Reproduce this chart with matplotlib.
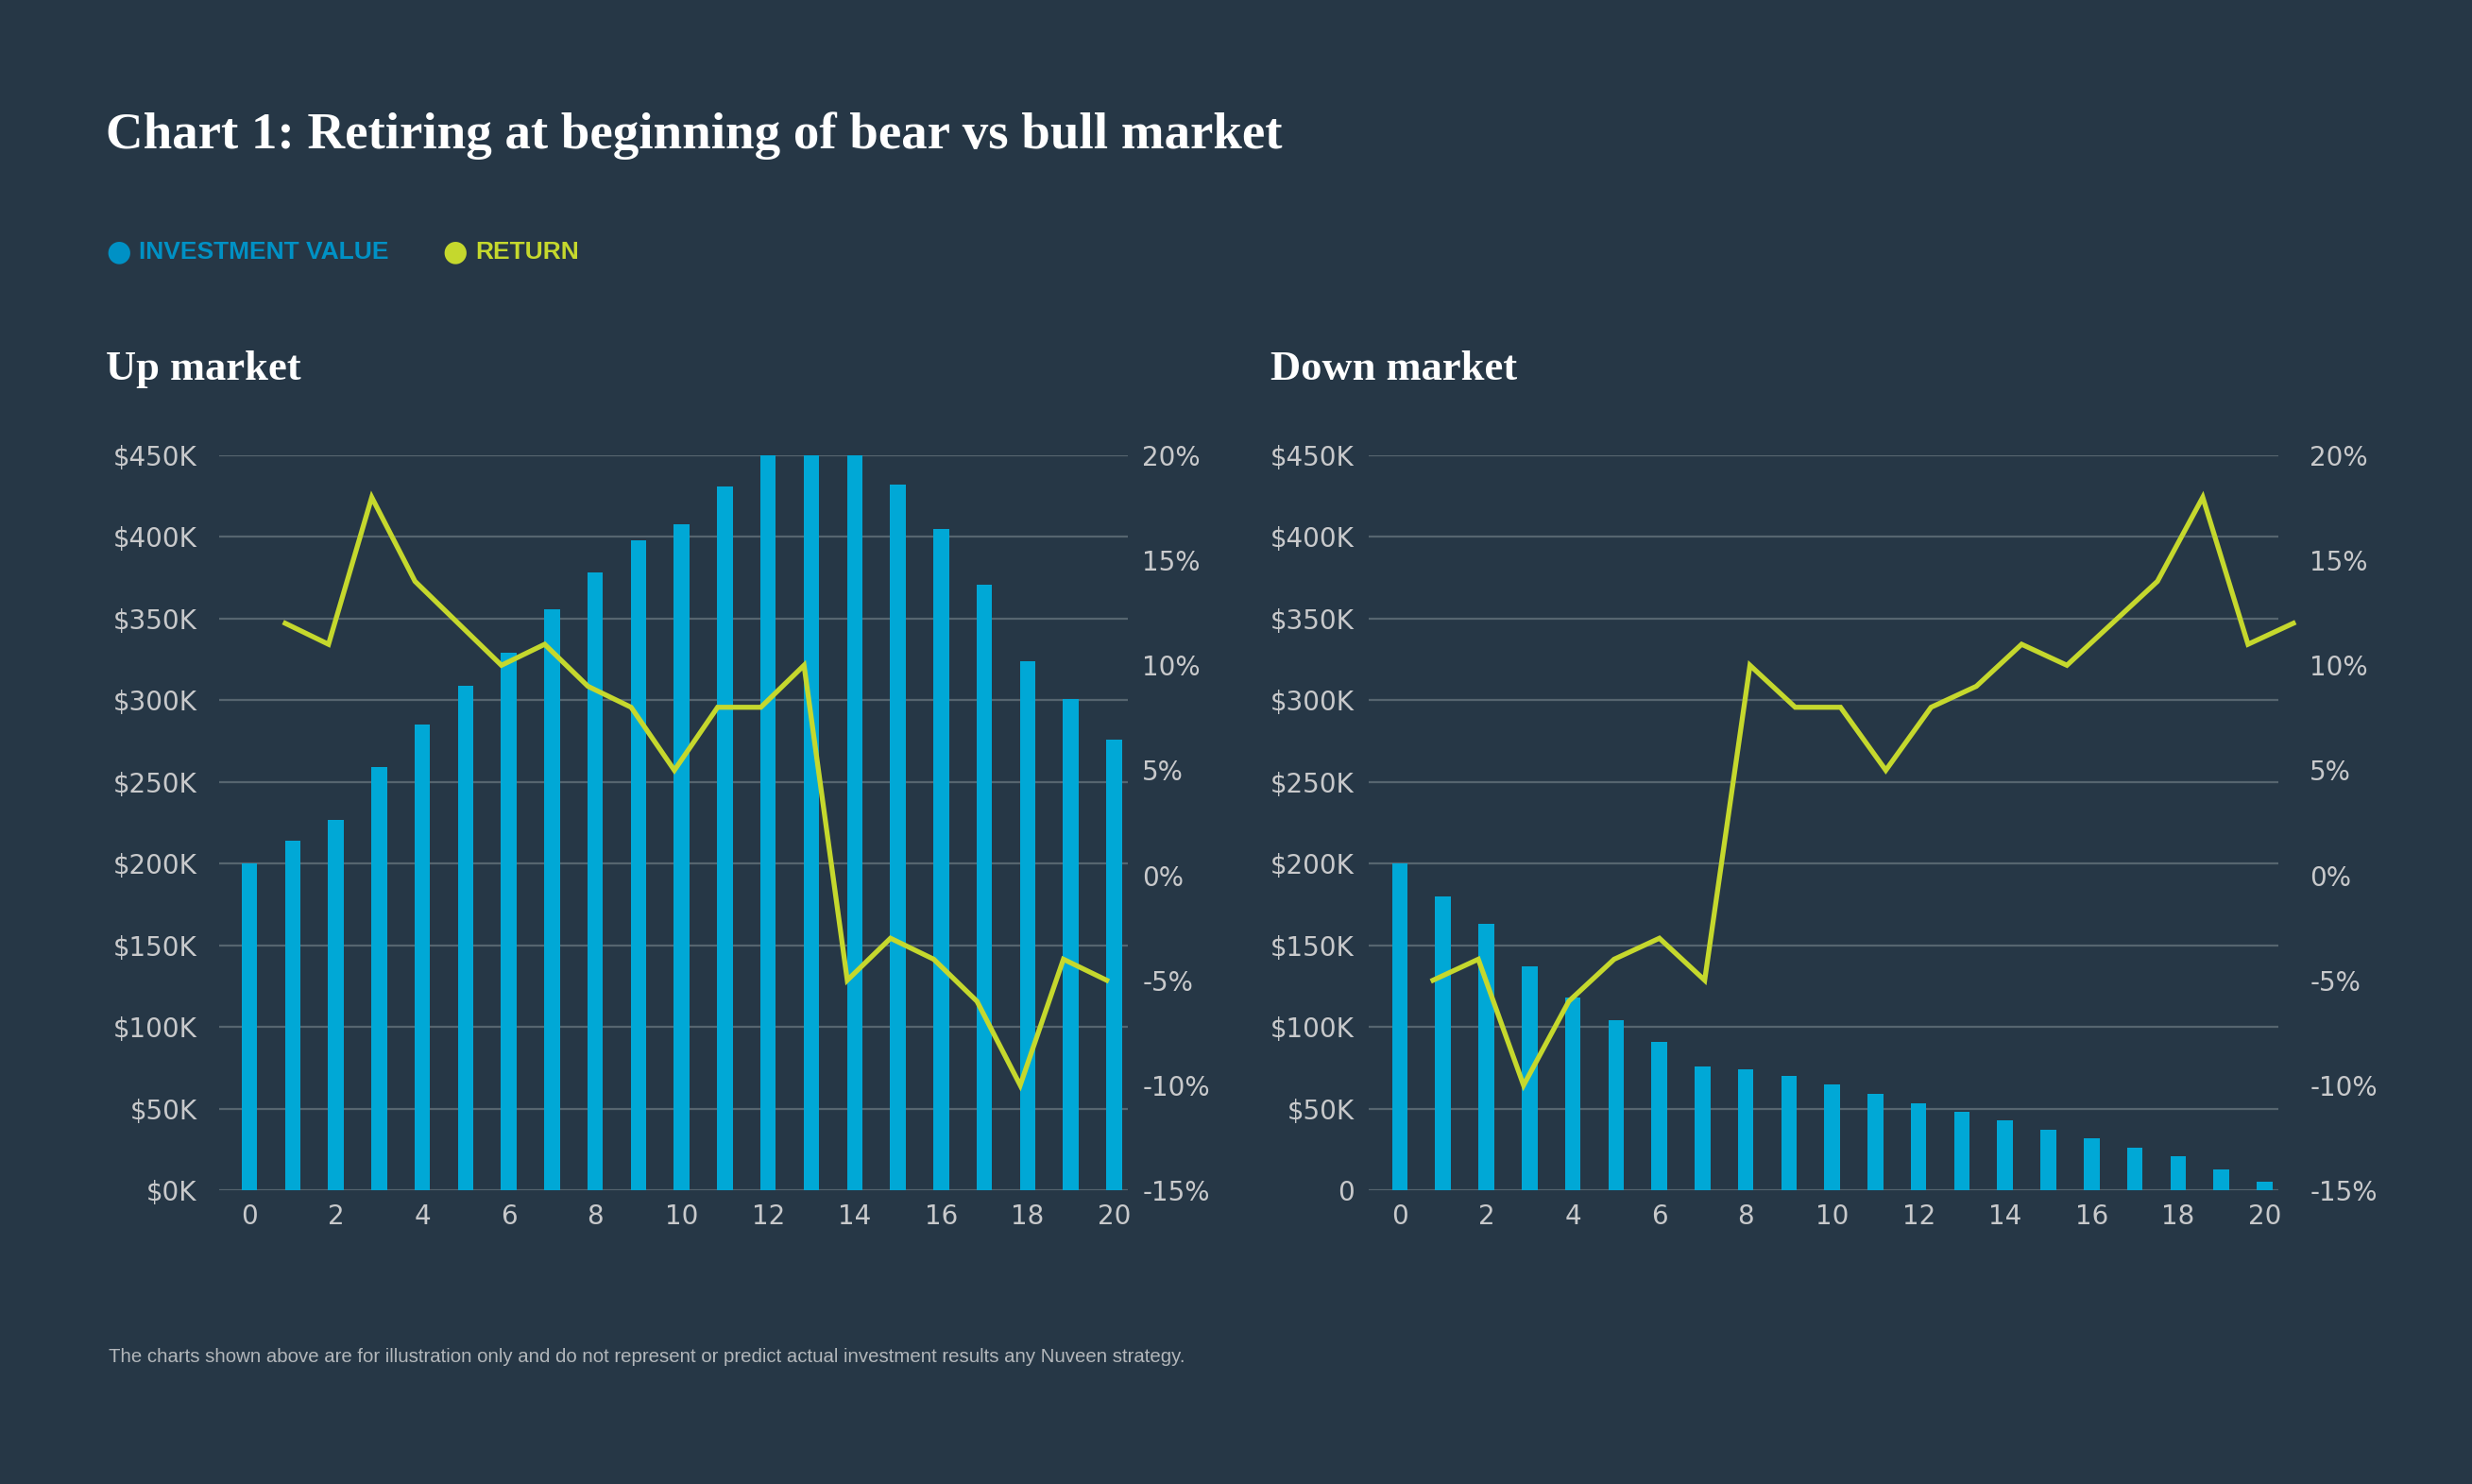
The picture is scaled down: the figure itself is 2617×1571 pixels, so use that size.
import numpy as np
import matplotlib
matplotlib.use("Agg")
import matplotlib.pyplot as plt

# ---- data ----
years = list(range(0, 21))
ret_years = list(range(1, 21))

up_value = [200, 214, 227, 259, 285, 309, 329, 356, 378, 398, 408, 431,
            450, 450, 450, 432, 405, 371, 324, 301, 276]
up_return = [12, 11, 18, 14, 12, 10, 11, 9, 8, 5, 8, 8, 10,
             -5, -3, -4, -6, -10, -4, -5]

down_value = [200, 180, 163, 137, 118, 104, 91, 76, 74, 70, 65, 59, 53,
              48, 43, 37, 32, 26, 21, 13, 5]
down_return = [-5, -4, -10, -6, -4, -3, -5, 10, 8, 8, 5, 8, 9, 11, 10,
               12, 14, 18, 11, 12]

value_ticks = list(range(0, 451, 50))
up_value_labels = ["$%dK" % v for v in value_ticks]
down_value_labels = ["$%dK" % v for v in value_ticks]
down_value_labels[0] = "0"
pct_ticks = list(range(-15, 21, 5))
pct_labels = ["%d%%" % v for v in pct_ticks]

BG = "#263746"
BAR = "#00a8d6"
LINE = "#c5d82d"
GRID = "#56656f"
TICK = "#c8c9cb"
LEG_BLUE = "#0091c5"

W, H = 2617, 1571
fig = plt.figure(figsize=(W / 100, H / 100), dpi=100)
fig.patch.set_facecolor(BG)

SERIF = ["Liberation Serif", "DejaVu Serif"]
NARROW = ["Liberation Sans", "DejaVu Sans"]


def px(x, y):
    return x / W, 1 - y / H


def panel(x0, x1, values, returns, vlabels, xlim, line_xlim, lpad, rpad):
    y0, y1 = 482, 1260
    pos = [x0 / W, 1 - y1 / H, (x1 - x0) / W, (y1 - y0) / H]
    ax = fig.add_axes(pos)
    ax.set_facecolor(BG)
    ax.bar(years, values, width=0.36, color=BAR, zorder=2)
    ax.set_xlim(*xlim)
    ax.set_ylim(0, 450)
    ax.set_yticks(value_ticks)
    ax.set_yticklabels(vlabels)
    ax.set_xticks(range(0, 21, 2))
    ax.grid(axis="y", color=GRID, linewidth=1.6, zorder=0)
    ax.set_axisbelow(True)
    for s in ax.spines.values():
        s.set_visible(False)
    ax.tick_params(axis="y", length=0, pad=lpad, labelsize=20, labelcolor=TICK)
    ax.tick_params(axis="x", length=0, pad=10, labelsize=20, labelcolor=TICK)

    # returns live on their own overlay axes (own x scale, right-hand %)
    ax2 = fig.add_axes(pos)
    ax2.patch.set_alpha(0)
    ax2.plot(ret_years, returns, color=LINE, linewidth=3.8, clip_on=False,
             solid_joinstyle="miter")
    ax2.set_xlim(*line_xlim)
    ax2.set_ylim(-15, 20)
    ax2.set_yticks(pct_ticks)
    ax2.set_yticklabels(pct_labels)
    ax2.yaxis.tick_right()
    ax2.set_xticks([])
    for s in ax2.spines.values():
        s.set_visible(False)
    ax2.tick_params(axis="y", length=0, pad=rpad, labelsize=20, labelcolor=TICK)
    for t in ax2.get_yticklabels():
        t.set_horizontalalignment("left")
    return ax, ax2


panel(232, 1194, up_value, up_return, up_value_labels,
      (-0.7, 20.32), (-0.53, 20.49), 17, 11)
panel(1449, 2412, down_value, down_return, down_value_labels,
      (-0.72, 20.32), (-0.42, 19.67), 11, 24)

# ---- titles, legend, note ----
fig.text(*px(112, 144), "Chart 1: Retiring at beginning of bear vs bull market",
         family=SERIF, weight="bold", fontsize=39.5, color="white", va="center")
fig.text(*px(112, 391), "Up market", family=SERIF, weight="bold",
         fontsize=32, color="white", va="center")
fig.text(*px(1345, 391), "Down market", family=SERIF, weight="bold",
         fontsize=32, color="white", va="center")

for cx, tx, label, col in [(126, 147, "INVESTMENT VALUE", LEG_BLUE),
                           (482, 503, "RETURN", LINE)]:
    fig.text(*px(cx, 267), "\u25cf", fontsize=22, color=col, ha="center",
             va="center", family="DejaVu Sans")
    fig.text(*px(tx, 267), label, family=NARROW, weight="bold",
             fontsize=19, color=col, va="center")

fig.text(*px(115, 1436),
         "The charts shown above are for illustration only and do not represent "
         "or predict actual investment results any Nuveen strategy.",
         family=NARROW, fontsize=14.7, color="#b3b7bb", va="center")

fig.savefig("out.png", dpi=100, facecolor=BG)
